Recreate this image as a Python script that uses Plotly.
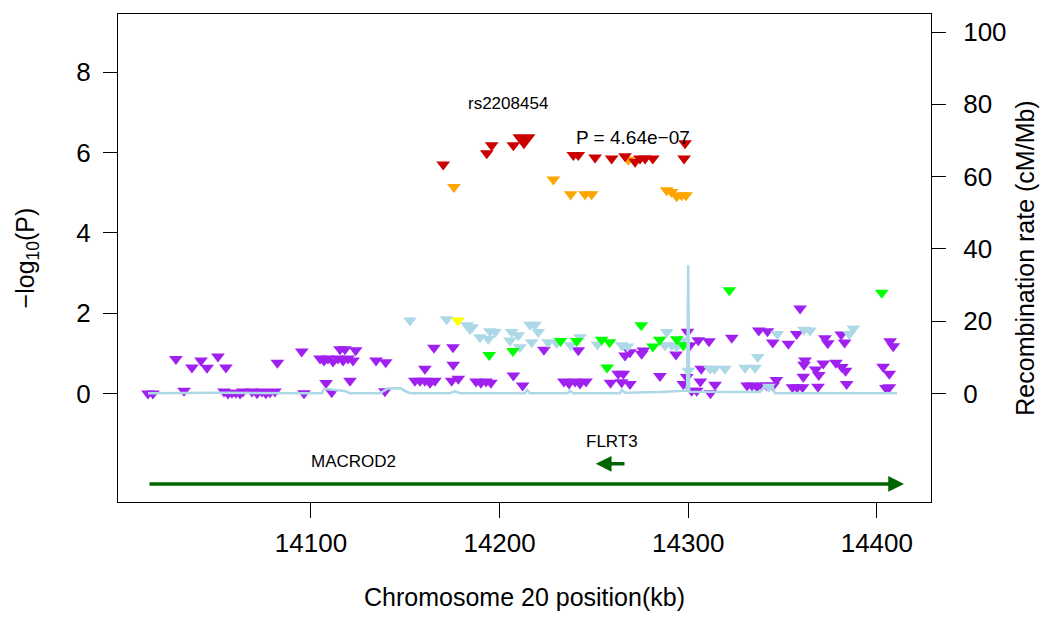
import plotly.graph_objs as go

# SNP positions (kb) and -log10(P), grouped by LD colour
purple_pos = [14013.6, 14016.2, 14028.4, 14032.7, 14036.9, 14041.7, 14044.9, 14050.7, 14054.9,
              14053.9, 14056.0, 14058.1, 14060.2, 14062.4, 14063.9,
              14068.7, 14071.4, 14074.0, 14076.1, 14078.3, 14080.9,
              14082.2, 14095.1, 14096.3,
              14104.8, 14106.9, 14109.0, 14111.7, 14114.3, 14117.0, 14119.6, 14122.3,
              14115.4, 14118.0, 14123.7,
              14108.0, 14111.0, 14120.7, 14134.5, 14139.6, 14139.2,
              14165.2, 14160.4, 14155.1, 14157.8, 14160.4, 14163.1, 14165.7,
              14175.3, 14175.4, 14174.6, 14178.1,
              14187.5, 14190.1, 14192.8, 14195.4,
              14207.3, 14212.2, 14223.5, 14241.7,
              14234.1, 14236.8, 14240.0, 14242.6, 14245.8,
              14258.8, 14262.9, 14265.6, 14264.7, 14269.1,
              14266.5, 14269.1, 14275.3, 14276.2,
              14285.0, 14293.5, 14299.6, 14300.9, 14305.3, 14311.0, 14323.1,
              14337.4, 14342.0, 14344.8, 14353.1, 14357.5, 14359.3,
              14372.5, 14374.0, 14381.1, 14382.9, 14407.0, 14408.7,
              14361.9, 14361.4, 14371.6, 14367.6, 14369.2, 14361.0,
              14378.3, 14381.4, 14383.4, 14384.0,
              14403.3, 14406.6, 14404.8, 14406.6,
              14306.9, 14306.4, 14314.2, 14311.8,
              14299.2, 14297.4, 14301.8, 14304.5,
              14331.2, 14333.8, 14336.5, 14339.1, 14341.8, 14345.0,
              14346.7, 14355.3, 14357.7, 14360.6, 14368.8]
purple_logp = [0.00, 0.00, 0.86, 0.07, 0.65, 0.82, 0.64, 0.92, 0.65,
               0.05, 0.00, 0.02, 0.02, 0.00, 0.05,
               0.05, 0.01, 0.05, 0.01, 0.03, 0.05,
               0.77, 1.05, 0.01,
               0.87, 0.82, 0.87, 0.80, 0.87, 0.82, 0.87, 0.82,
               1.10, 1.10, 1.08,
               0.26, 0.03, 0.32, 0.82, 0.78, 0.06,
               1.14, 0.62, 0.32, 0.32, 0.32, 0.27, 0.32,
               1.15, 0.72, 0.32, 0.37,
               0.30, 0.27, 0.30, 0.27,
               0.45, 0.20, 1.09, 1.08,
               0.30, 0.25, 0.30, 0.25, 0.30,
               0.27, 0.49, 0.49, 0.28, 0.24,
               0.95, 1.03, 0.99, 1.07,
               0.44, 0.97, 1.54, 1.20, 1.33, 1.30, 1.39,
               1.57, 1.55, 1.27, 1.24, 1.48, 2.12,
               1.38, 1.25, 1.47, 1.27, 1.30, 1.18,
               0.82, 0.72, 0.75, 0.60, 0.46, 0.42,
               0.77, 0.66, 0.57, 0.24,
               0.67, 0.49, 0.14, 0.16,
               0.62, 0.30, 0.22, 0.01,
               0.41, 0.24, 0.07, 0.07,
               0.20, 0.20, 0.17, 0.20, 0.20, 0.20,
               0.34, 0.16, 0.16, 0.16, 0.17]

lightblue_pos = [14152.5, 14171.9, 14182.7, 14185.4, 14184.3, 14189.6, 14194.9, 14197.6, 14194.0,
                 14206.4, 14209.9, 14205.5, 14210.8, 14216.1, 14218.8, 14220.5, 14217.0, 14225.7,
                 14230.2, 14237.7, 14242.6, 14251.9, 14264.7, 14267.8, 14288.6, 14287.7, 14291.2,
                 14293.9, 14296.5, 14300.1, 14347.2, 14361.4, 14364.6, 14387.5, 14385.4, 14336.8,
                 14330.1, 14335.4, 14311.5, 14313.9, 14319.5, 14342.7]
lightblue_logp = [1.82, 1.85, 1.70, 1.65, 1.61, 1.40, 1.55, 1.53, 1.36,
                  1.53, 1.45, 1.32, 1.15, 1.71, 1.71, 1.53, 1.28, 1.28,
                  1.26, 1.20, 1.40, 1.22, 1.20, 1.17, 1.53, 1.20, 1.20,
                  1.17, 1.32, 0.57, 1.48, 1.59, 1.57, 1.62, 1.48, 0.91,
                  0.64, 0.64, 0.62, 0.62, 0.62, 0.17]

green_pos = [14194.5, 14207.1, 14232.3, 14240.9, 14254.1, 14258.3, 14275.1,
             14281.3, 14284.9, 14293.9, 14297.4, 14257.0, 14321.8, 14402.6]
green_logp = [0.96, 1.06, 1.31, 1.31, 1.34, 1.28, 1.70,
              1.17, 1.34, 1.35, 1.20, 0.65, 2.57, 2.51]

yellow_pos = [14177.9]
yellow_logp = [1.82]

orange_pos = [14175.8, 14228.5, 14237.7, 14245.3, 14248.8, 14268.2,
              14288.6, 14291.2, 14293.9, 14296.5, 14298.8]
orange_logp = [5.14, 5.33, 4.96, 4.96, 4.96, 5.82,
               5.06, 5.02, 4.91, 4.94, 4.94]

red_pos = [14170.1, 14193.2, 14195.8, 14207.3, 14239.1, 14241.7, 14250.6, 14259.4,
           14266.5, 14271.8, 14274.4, 14277.1, 14281.2, 14298.3, 14297.8]
red_logp = [5.70, 5.98, 6.18, 6.18, 5.94, 5.94, 5.88, 5.85,
            5.91, 5.77, 5.85, 5.85, 5.85, 6.23, 5.85]

top_snp = 'rs2208454'
top_pos = [14212.9]
top_logp = [6.33]
top_p_label = 'P = 4.64e\u221207'

# recombination rate (cM/Mb)
recomb_pos = [14013.6, 14051.8, 14094.2, 14105.8, 14106.9, 14118.0, 14120.7, 14136.6,
              14140.8, 14147.2, 14151.4, 14153.5, 14173.7, 14176.3, 14179.0, 14213.5,
              14214.5, 14216.1, 14236.3, 14237.3, 14238.9, 14263.8, 14264.9, 14266.5,
              14285.0, 14295.6, 14299.4, 14300.0, 14300.5, 14338.1, 14340.7, 14344.4,
              14346.0, 14410.7]
recomb_rate = [0.1, 0.2, 0.1, 0.1, 1.3, 0.7, 0.1, 0.1,
               1.4, 1.5, 0.3, 0.1, 0.1, 0.6, 0.1, 0.1,
               1.0, 0.1, 0.1, 0.8, 0.1, 0.1, 1.0, 0.2,
               0.4, 0.8, 0.8, 35.5, 0.5, 0.4, 2.2, 2.2,
               0.1, 0.1]

# genes: name, start, end, strand, track row, label position
gene_names = ['MACROD2', 'FLRT3']
gene_start = [14013.6, 14251.0]
gene_end = [14414.4, 14267.0]
gene_strand = ['+', '-']
gene_row = [-2.25, -1.75]
gene_label_x = [14122.8, 14259.6]

x_ticks = [14100, 14200, 14300, 14400]
y_ticks = [0, 2, 4, 6, 8]
recomb_ticks = [0, 20, 40, 60, 80, 100]

FONT = 'Liberation Sans, Arial, Helvetica, sans-serif'


def snp_trace(x, y, colour, size=12):
    return go.Scatter(x=x, y=y, mode='markers', showlegend=False,
                      marker=dict(symbol='triangle-down', size=size, color=colour,
                                  line=dict(width=0)))


data = [
    go.Scatter(x=recomb_pos, y=recomb_rate, yaxis='y2', mode='lines', showlegend=False,
               line=dict(color='#ADD8E6', width=2.5)),
    snp_trace(purple_pos, purple_logp, '#A020F0'),
    snp_trace(lightblue_pos, lightblue_logp, '#ADD8E6'),
    snp_trace(green_pos, green_logp, '#00FF00'),
    snp_trace(yellow_pos, yellow_logp, '#FFFF00'),
    snp_trace(orange_pos, orange_logp, '#FFA500'),
    snp_trace(red_pos, red_logp, '#CC0000'),
    snp_trace(top_pos, top_logp, '#CC0000', size=20),
]

annotations = [
    dict(x=14204.5, y=7.21, xref='x', yref='y', text=top_snp, showarrow=False,
         font=dict(family=FONT, size=17, color='black')),
    dict(x=14270.7, y=6.38, xref='x', yref='y', text=top_p_label, showarrow=False,
         font=dict(family=FONT, size=19, color='black')),
]
for name, start, end, strand, row, lx in zip(gene_names, gene_start, gene_end,
                                             gene_strand, gene_row, gene_label_x):
    head, tail = (end, start) if strand == '+' else (start, end)
    annotations.append(dict(x=head, y=row, ax=tail, ay=row, xref='x', yref='y',
                            axref='x', ayref='y', text='', showarrow=True,
                            arrowhead=2, arrowsize=0.9, arrowwidth=3.5,
                            arrowcolor='#006400', standoff=0))
    annotations.append(dict(x=lx, y=row + 0.55, xref='x', yref='y', text=name,
                            showarrow=False, font=dict(family=FONT, size=17, color='black')))

# the page body adds an 8px margin, so the figure is 8px smaller than the window
layout = go.Layout(
    width=1042,
    height=611,
    margin=dict(l=110, r=119, t=6, b=117),
    paper_bgcolor='white',
    plot_bgcolor='white',
    font=dict(family=FONT, color='black'),
    xaxis=dict(
        range=[13997.7, 14428.7],
        tickvals=x_ticks,
        tickformat='d',
        ticks='outside', ticklen=15, tickcolor='black', tickwidth=1,
        ticklabelstandoff=3,
        tickfont=dict(size=26),
        showline=True, linecolor='black', linewidth=1, mirror=True,
        showgrid=False, zeroline=False, automargin=False,
        title=dict(text='Chromosome 20 position(kb)', font=dict(size=25), standoff=31),
    ),
    yaxis=dict(
        range=[-2.7, 9.45],
        tickvals=y_ticks,
        ticks='outside', ticklen=14, tickcolor='black', tickwidth=1,
        ticklabelstandoff=7,
        tickfont=dict(size=26),
        showline=True, linecolor='black', linewidth=1, mirror=True,
        showgrid=False, zeroline=False, automargin=False,
        title=dict(text='\u2212log<sub>10</sub>(P)', font=dict(size=25), standoff=34),
    ),
    yaxis2=dict(
        range=[-30, 105],
        overlaying='y',
        side='right',
        tickvals=recomb_ticks,
        ticks='outside', ticklen=14, tickcolor='black', tickwidth=1,
        ticklabelstandoff=12,
        tickfont=dict(size=26),
        showline=False, showgrid=False, zeroline=False, automargin=False,
        title=dict(text='Recombination rate (cM/Mb)', font=dict(size=25), standoff=10),
    ),
    annotations=annotations,
)

fig = go.Figure(data=data, layout=layout)
fig.write_html('out.html')
